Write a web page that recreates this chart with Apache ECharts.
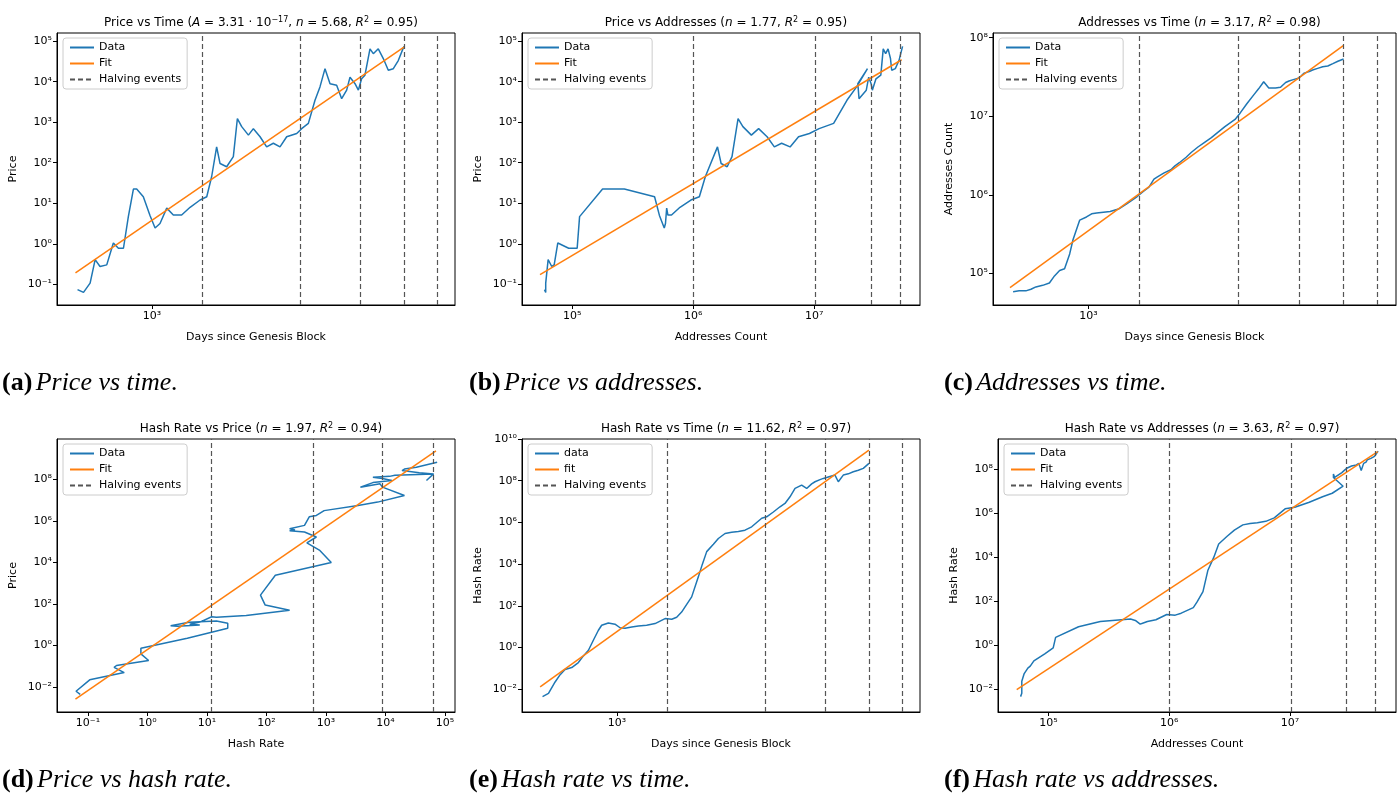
<!DOCTYPE html>
<html>
<head>
<meta charset="utf-8">
<script src="https://cdn.jsdelivr.net/npm/echarts@6/dist/echarts.min.js"></script>
<style>
  html, body { margin: 0; padding: 0; background: #fff; }
  #main { width: 1400px; height: 810px; }
</style>
</head>
<body>
<div id="main"></div>
<script>
// sample days (days since genesis block)
var days = [600, 625, 654, 677, 700, 733, 767, 794, 822, 850, 880, 900, 942, 986, 1021, 1056, 1106, 1157, 1225, 1298,
  1390, 1455, 1505, 1557, 1594, 1668, 1746, 1795, 1849, 1936, 2003, 2097, 2194, 2297, 2404, 2517, 2696, 2789, 2920, 3056,
  3162, 3273, 3388, 3545, 3669, 3797, 3885, 4021, 4114, 4207, 4304, 4455, 4558, 4716, 4881, 5051, 5228, 5409, 5623];
// log10 of price, addresses count and hash rate at those days
var priceLog = [-1.13, -1.2, -0.97, -0.39, -0.56, -0.52, 0.02, -0.11, -0.11, 0.67, 1.35, 1.35, 1.16, 0.7, 0.39, 0.5, 0.88, 0.71, 0.71, 0.9,
  1.08, 1.16, 1.66, 2.39, 1.98, 1.9, 2.15, 3.09, 2.89, 2.68, 2.84, 2.64, 2.39, 2.48, 2.39, 2.64, 2.72, 2.84, 2.97, 3.54,
  3.87, 4.32, 3.95, 3.91, 3.58, 3.79, 4.11, 3.95, 3.79, 4.07, 4.16, 4.81, 4.69, 4.81, 4.57, 4.28, 4.32, 4.52, 4.87];
var addrLog = [4.77, 4.78, 4.78, 4.8, 4.83, 4.85, 4.88, 4.97, 5.04, 5.06, 5.25, 5.43, 5.68, 5.72, 5.76, 5.77, 5.78, 5.79, 5.82, 5.89,
  5.98, 6.05, 6.1, 6.2, 6.23, 6.28, 6.32, 6.37, 6.41, 6.48, 6.54, 6.61, 6.67, 6.73, 6.8, 6.87, 6.96, 7.04, 7.16, 7.27,
  7.35, 7.44, 7.36, 7.36, 7.37, 7.43, 7.45, 7.47, 7.48, 7.51, 7.55, 7.57, 7.59, 7.61, 7.63, 7.64, 7.67, 7.7, 7.73];
var hashLog = [-2.35, -2.2, -1.65, -1.3, -1.05, -0.96, -0.72, -0.4, -0.13, 0.35, 0.83, 1.07, 1.18, 1.12, 0.95, 0.93, 0.99, 1.03, 1.07, 1.15,
  1.39, 1.36, 1.45, 1.7, 1.95, 2.43, 3.39, 4.0, 4.6, 4.95, 5.23, 5.47, 5.53, 5.57, 5.63, 5.79, 6.2, 6.27, 6.5, 6.75,
  6.91, 7.23, 7.63, 7.79, 7.63, 7.85, 7.95, 8.05, 8.11, 8.15, 8.2, 8.27, 7.95, 8.27, 8.33, 8.43, 8.5, 8.59, 8.83];

// halving events in each x quantity
var halvingDays = [1425, 2746, 4148, 5588, 7000];
var halvingAddrLog = [6.0, 7.01, 7.47, 7.71];
var halvingPriceLog = [1.08, 2.78, 3.94, 4.81];

// fit line end points [[x0, y0], [x1, y1]] in log10 units
var fitA = [[2.772, -0.72], [3.75, 4.85]];
var fitB = [[4.733, -0.76], [7.722, 4.54]];
var fitC = [[2.769, 4.82], [3.749, 7.90]];
var fitD = [[-1.21, -2.58], [4.85, 9.38]];
var fitE = [[2.771, -1.89], [3.75, 9.47]];
var fitF = [[4.738, -2.03], [7.727, 8.8]];

var titles = [
  '{n|Price vs Time (}{i|A}{n| = 3.31 · 10}{s|−17}{n|, }{i|n}{n| = 5.68, }{i|R}{s|2}{n| = 0.95)}',
  '{n|Price vs Addresses (}{i|n}{n| = 1.77, }{i|R}{s|2}{n| = 0.95)}',
  '{n|Addresses vs Time (}{i|n}{n| = 3.17, }{i|R}{s|2}{n| = 0.98)}',
  '{n|Hash Rate vs Price (}{i|n}{n| = 1.97, }{i|R}{s|2}{n| = 0.94)}',
  '{n|Hash Rate vs Time (}{i|n}{n| = 11.62, }{i|R}{s|2}{n| = 0.97)}',
  '{n|Hash Rate vs Addresses (}{i|n}{n| = 3.63, }{i|R}{s|2}{n| = 0.97)}'
];
var captions = [['(a)', 'Price vs time.'], ['(b)', 'Price vs addresses.'], ['(c)', 'Addresses vs time.'],
  ['(d)', 'Price vs hash rate.'], ['(e)', 'Hash rate vs time.'], ['(f)', 'Hash rate vs addresses.']];

var dayLog = days.map(function (d) { return Math.log10(d); });
var halvingDayLog = halvingDays.map(function (d) { return Math.log10(d); });
function pairs(xs, ys) { return xs.map(function (x, i) { return [x, ys[i]]; }); }

var panels = [
  {box: [57, 33, 398, 272], x: [2.717, 3.902], y: [-1.51, 5.2], xt: [3], yt: [-1, 0, 1, 2, 3, 4, 5],
    xn: 'Days since Genesis Block', yn: 'Price', data: pairs(dayLog, priceLog), fit: fitA, hv: halvingDayLog, names: ['Data', 'Fit']},
  {box: [522, 33, 398, 272], x: [4.584, 7.874], y: [-1.51, 5.2], xt: [5, 6, 7], yt: [-1, 0, 1, 2, 3, 4, 5],
    xn: 'Addresses Count', yn: 'Price', data: pairs(addrLog, priceLog), fit: fitB, hv: halvingAddrLog, names: ['Data', 'Fit']},
  {box: [993, 33, 403, 272], x: [2.719, 3.904], y: [4.6, 8.06], xt: [3], yt: [5, 6, 7, 8],
    xn: 'Days since Genesis Block', yn: 'Addresses Count', data: pairs(dayLog, addrLog), fit: fitC, hv: halvingDayLog, names: ['Data', 'Fit']},
  {box: [57, 439, 398, 273], x: [-1.52, 5.17], y: [-3.2, 9.95], xt: [-1, 0, 1, 2, 3, 4, 5], yt: [-2, 0, 2, 4, 6, 8],
    xn: 'Hash Rate', yn: 'Price', data: pairs(priceLog, hashLog), fit: fitD, hv: halvingPriceLog, names: ['Data', 'Fit']},
  {box: [522, 439, 398, 273], x: [2.717, 3.902], y: [-3.09, 10.0], xt: [3], yt: [-2, 0, 2, 4, 6, 8, 10],
    xn: 'Days since Genesis Block', yn: 'Hash Rate', data: pairs(dayLog, hashLog), fit: fitE, hv: halvingDayLog, names: ['data', 'fit']},
  {box: [998, 439, 398, 273], x: [4.583, 7.878], y: [-3.05, 9.38], xt: [5, 6, 7], yt: [-2, 0, 2, 4, 6, 8],
    xn: 'Addresses Count', yn: 'Hash Rate', data: pairs(addrLog, hashLog), fit: fitF, hv: halvingAddrLog, names: ['Data', 'Fit']}
];

var SUP = {'0': '⁰', '1': '¹', '2': '²', '3': '³', '4': '⁴', '5': '⁵', '6': '⁶', '7': '⁷', '8': '⁸', '9': '⁹', '-': '⁻'};
function pow10(v) {
  var n = Math.round(v);
  return '10' + String(n).split('').map(function (c) { return SUP[c]; }).join('');
}

var FONT = 'DejaVu Sans';
var option = {animation: false, grid: [], xAxis: [], yAxis: [], series: [], legend: [], title: [], graphic: []};

panels.forEach(function (p, i) {
  var b = p.box;
  option.grid.push({left: b[0], top: b[1], width: b[2], height: b[3], show: true, borderColor: '#000', borderWidth: 1, containLabel: false});
  option.xAxis.push({
    type: 'value', gridIndex: i, min: p.x[0], max: p.x[1],
    name: p.xn, nameLocation: 'middle', nameGap: 27, nameTextStyle: {fontFamily: FONT, fontSize: 11, color: '#000'},
    axisLine: {show: true, onZero: false, lineStyle: {color: '#000'}},
    axisTick: {show: true, length: 4, customValues: p.xt, lineStyle: {color: '#000'}},
    axisLabel: {customValues: p.xt, formatter: pow10, fontFamily: FONT, fontSize: 11, color: '#000', margin: 6},
    splitLine: {show: false}
  });
  option.yAxis.push({
    type: 'value', gridIndex: i, min: p.y[0], max: p.y[1],
    name: p.yn, nameLocation: 'middle', nameGap: 38, nameTextStyle: {fontFamily: FONT, fontSize: 11, color: '#000'},
    axisLine: {show: true, onZero: false, lineStyle: {color: '#000'}},
    axisTick: {show: true, length: 4, customValues: p.yt, lineStyle: {color: '#000'}},
    axisLabel: {customValues: p.yt, formatter: pow10, fontFamily: FONT, fontSize: 11, color: '#000', margin: 5},
    splitLine: {show: false}
  });
  option.series.push({
    name: p.names[0], type: 'line', xAxisIndex: i, yAxisIndex: i, data: p.data,
    symbol: 'none', lineStyle: {color: '#1f77b4', width: 1.5}, itemStyle: {color: '#1f77b4'}, z: 3
  });
  option.series.push({
    name: p.names[1], type: 'line', xAxisIndex: i, yAxisIndex: i, data: p.fit,
    symbol: 'none', lineStyle: {color: '#ff7f0e', width: 1.5}, itemStyle: {color: '#ff7f0e'}, z: 4
  });
  option.series.push({
    name: 'Halving events', type: 'line', xAxisIndex: i, yAxisIndex: i, data: [],
    symbol: 'none', lineStyle: {color: '#555', width: 1.2, type: [5, 3]}, itemStyle: {color: '#555'},
    markLine: {
      silent: true, symbol: 'none', label: {show: false}, animation: false,
      lineStyle: {color: '#555', width: 1.2, type: [5, 3]},
      data: p.hv.map(function (v) { return {xAxis: v}; })
    }
  });
  option.legend.push({
    left: b[0] + 6, top: b[1] + 5, orient: 'vertical',
    data: [p.names[0], p.names[1], 'Halving events'],
    backgroundColor: 'rgba(255,255,255,0.85)', borderColor: '#ccc', borderWidth: 1, borderRadius: 3,
    padding: [4, 6, 4, 6], itemGap: 5, itemWidth: 24, itemHeight: 10,
    itemStyle: {opacity: 0},
    textStyle: {fontFamily: FONT, fontSize: 11, color: '#000'}, selectedMode: false
  });
  option.title.push({
    text: titles[i], left: b[0] + b[2] / 2, textAlign: 'center', top: b[1] - 22,
    textStyle: {
      fontWeight: 'normal',
      rich: {
        n: {fontFamily: FONT, fontSize: 12, fontWeight: 'normal', color: '#000'},
        i: {fontFamily: FONT, fontSize: 12, fontWeight: 'normal', fontStyle: 'italic', color: '#000'},
        s: {fontFamily: FONT, fontSize: 8, fontWeight: 'normal', color: '#000', verticalAlign: 'top', padding: [0, 0, 6, 0]}
      }
    }
  });
  var cx = [2, 469, 944][i % 3];
  var cy = i < 3 ? 370 : 767;
  option.graphic.push({
    type: 'text', left: cx, top: cy,
    style: {
      text: '{b|' + captions[i][0] + '} {it|' + captions[i][1] + '}',
      rich: {
        b: {fontFamily: 'Liberation Serif', fontSize: 26, fontWeight: 'bold', fill: '#000'},
        it: {fontFamily: 'Liberation Serif', fontSize: 26, fontStyle: 'italic', fill: '#000'}
      }
    }
  });
});

var chart = echarts.init(document.getElementById('main'));
chart.setOption(option);
</script>
</body>
</html>
